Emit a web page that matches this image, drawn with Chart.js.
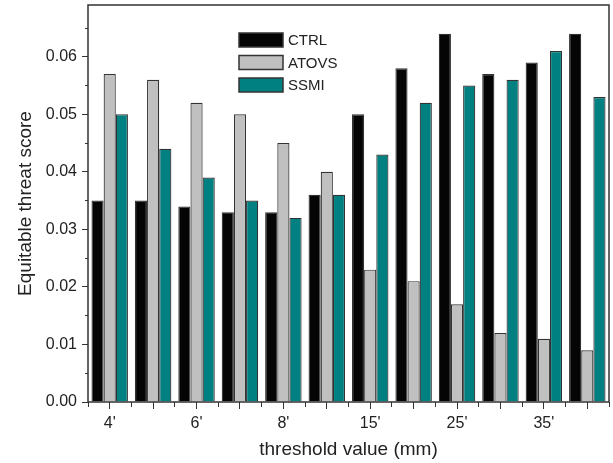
<!DOCTYPE html>
<html><head><meta charset="utf-8">
<script src="https://cdn.jsdelivr.net/npm/chart.js@4"></script>
<style>html,body{margin:0;padding:0;background:#fff;overflow:hidden}</style>
</head><body>
<canvas id="c" width="613" height="463"></canvas>
<script>
// threshold categories (only every other one is labelled on the axis)
const categories = ["4'", "5'", "6'", "7'", "8'", "10'", "15'", "20'", "25'", "30'", "35'", "40'"];
const seriesNames = ["CTRL", "ATOVS", "SSMI"];
const ctrl  = [0.035, 0.035, 0.034, 0.033, 0.033, 0.036, 0.050, 0.058, 0.064, 0.057, 0.059, 0.064];
const atovs = [0.057, 0.056, 0.052, 0.050, 0.045, 0.040, 0.023, 0.021, 0.017, 0.012, 0.011, 0.009];
const ssmi  = [0.050, 0.044, 0.039, 0.035, 0.032, 0.036, 0.043, 0.052, 0.055, 0.056, 0.061, 0.053];
const yMajorStep = 0.01;
const yMinorStep = 0.005;
const yMax = 0.069;

const FONT = "'Liberation Sans', Arial, Helvetica, sans-serif";
const TXT = '#222';
const LINE = '#333';

function keepMultiples(step) {
  return function (scale) {
    scale.ticks = scale.ticks.filter(t => Math.abs(t.value / step - Math.round(t.value / step)) < 1e-6);
  };
}

const framePlugin = {
  id: 'frame',
  afterDatasetsDraw(chart) {
    const { ctx, chartArea: a } = chart;
    ctx.save();
    ctx.strokeStyle = LINE;
    ctx.lineWidth = 1.5;
    ctx.strokeRect(a.left, a.top, a.right - a.left, a.bottom - a.top);
    ctx.restore();
  }
};

const legendPlugin = {
  id: 'innerLegend',
  afterDraw(chart) {
    const { ctx } = chart;
    const x0 = 239, y0 = 33, bw = 44, bh = 14, gap = 22.5;
    ctx.save();
    chart.data.datasets.forEach((ds, i) => {
      const y = y0 + i * gap;
      ctx.fillStyle = ds.backgroundColor;
      ctx.fillRect(x0, y, bw, bh);
      ctx.strokeStyle = LINE;
      ctx.lineWidth = 1.5;
      ctx.strokeRect(x0, y, bw, bh);
      ctx.fillStyle = TXT;
      ctx.font = '15px ' + FONT;
      ctx.textBaseline = 'middle';
      ctx.textAlign = 'left';
      ctx.fillText(ds.label, x0 + bw + 5, y + bh / 2 + 1);
    });
    ctx.restore();
  }
};

function noVPad(s) { s.paddingTop = 0; s.paddingBottom = 0; }

new Chart(document.getElementById('c'), {
  type: 'bar',
  data: {
    labels: categories,
    datasets: [
      { label: seriesNames[0], data: ctrl,  backgroundColor: '#050505' },
      { label: seriesNames[1], data: atovs, backgroundColor: '#c0c0c0' },
      { label: seriesNames[2], data: ssmi,  backgroundColor: '#008080' }
    ]
  },
  options: {
    responsive: false,
    animation: false,
    devicePixelRatio: 1,
    layout: { padding: { top: 5, right: 4, left: 0, bottom: 0 } },
    datasets: {
      bar: { categoryPercentage: 0.84, barPercentage: 1.0, borderWidth: 1.2, borderColor: LINE }
    },
    plugins: { legend: { display: false }, tooltip: { enabled: false } },
    scales: {
      x: {
        type: 'category', position: 'bottom', offset: true, weight: 0,
        grid: { offset: true, drawOnChartArea: false, tickLength: 5, color: LINE, lineWidth: 1 },
        border: { display: false },
        ticks: { display: false },
        afterFit(s) { s.height = 0; }
      },
      x2: {
        type: 'category', position: 'bottom', offset: true, weight: 1,
        grid: { offset: false, drawOnChartArea: false, tickLength: 7, color: LINE, lineWidth: 1 },
        border: { display: false },
        ticks: {
          autoSkip: false, maxRotation: 0, minRotation: 0, padding: 5, color: TXT,
          font: { family: FONT, size: 16 },
          callback: (v, i) => (i % 2 === 0 ? categories[i] : '')
        },
        title: { display: true, text: 'threshold value (mm)', color: TXT,
                 font: { family: FONT, size: 19 }, padding: { top: 0, bottom: 2 } },
        afterFit(s) { s.height = 61; }
      },
      y: {
        type: 'linear', position: 'left', min: 0, max: yMax, weight: 1,
        grid: { drawOnChartArea: false, tickLength: 6, color: LINE, lineWidth: 1 },
        border: { display: false },
        afterBuildTicks: keepMultiples(yMajorStep),
        ticks: { stepSize: yMajorStep, padding: 5, color: TXT,
                 font: { family: FONT, size: 16 },
                 callback: v => Number(v).toFixed(2) },
        title: { display: true, text: 'Equitable threat score', color: TXT,
                 font: { family: FONT, size: 19 }, padding: { top: 14, bottom: 0 } },
        afterFit(s) { s.width = 88; noVPad(s); }
      },
      y2: {
        type: 'linear', position: 'left', min: 0, max: yMax, weight: 0,
        grid: { drawOnChartArea: false, tickLength: 3, color: LINE, lineWidth: 1 },
        border: { display: false },
        afterBuildTicks: keepMultiples(yMinorStep),
        ticks: { stepSize: yMinorStep, display: false },
        afterFit(s) { s.width = 0; noVPad(s); }
      }
    }
  },
  plugins: [framePlugin, legendPlugin]
});
</script>
</body></html>
